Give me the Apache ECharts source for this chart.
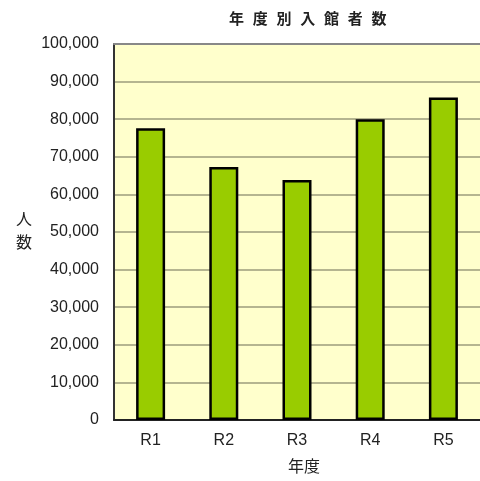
<!DOCTYPE html>
<html>
<head>
<meta charset="utf-8">
<script src="https://cdn.jsdelivr.net/npm/echarts@6/dist/echarts.min.js"></script>
<style>
  html, body { margin: 0; padding: 0; background: #fff; }
  #chart { width: 480px; height: 481px; }
</style>
</head>
<body>
<div id="chart"></div>
<script>
const years = ['R1', 'R2', 'R3', 'R4', 'R5']
const visitors = [77600, 67300, 63800, 80000, 85800]

const font = "'Liberation Sans', 'Noto Sans CJK JP', sans-serif"

const chart = echarts.init(document.getElementById('chart'))

chart.setOption({
  animation: false,
  title: {
    text: ['年', '度', '別', '入', '館', '者', '数'].join('\u2002\u200A'),
    left: 224,
    top: 7,
    textStyle: { fontFamily: font, fontSize: 15, fontWeight: 'bold', color: '#222' }
  },
  grid: {
    left: 114, top: 44, width: 376, height: 381,
    show: true, backgroundColor: '#FFFFCC', borderWidth: 0
  },
  xAxis: [
    {
      type: 'category',
      data: years,
      name: '年度',
      nameLocation: 'middle',
      nameGap: 40,
      nameTextStyle: { fontFamily: font, fontSize: 16, color: '#222', padding: [0, 0, 0, 14] },
      axisLine: { lineStyle: { color: '#222', width: 2 } },
      axisTick: { inside: true, length: 4, lineStyle: { color: '#999' } },
      axisLabel: { fontFamily: font, fontSize: 16, color: '#222', margin: 13 }
    },
    {
      type: 'category',
      data: years,
      position: 'top',
      axisLine: { lineStyle: { color: '#888', width: 2 } },
      axisTick: { show: false },
      axisLabel: { show: false }
    }
  ],
  yAxis: {
    type: 'value',
    min: 0,
    max: 100000,
    interval: 10000,
    name: '人\n数',
    nameLocation: 'middle',
    nameRotate: 0,
    nameGap: 82,
    nameTextStyle: { fontFamily: font, fontSize: 16, color: '#222', lineHeight: 23 },
    axisLine: { show: true, lineStyle: { color: '#333', width: 2 } },
    axisTick: { show: false },
    axisLabel: {
      fontFamily: font, fontSize: 16, color: '#222', margin: 15,
      formatter: v => v.toLocaleString('en-US')
    },
    splitLine: { lineStyle: { color: '#9c9c7c', width: 1.5 } }
  },
  series: [
    {
      type: 'bar',
      data: visitors,
      barWidth: 29,
      itemStyle: { color: '#99CC00', borderColor: '#000', borderWidth: 2.5 }
    }
  ]
})
</script>
</body>
</html>
